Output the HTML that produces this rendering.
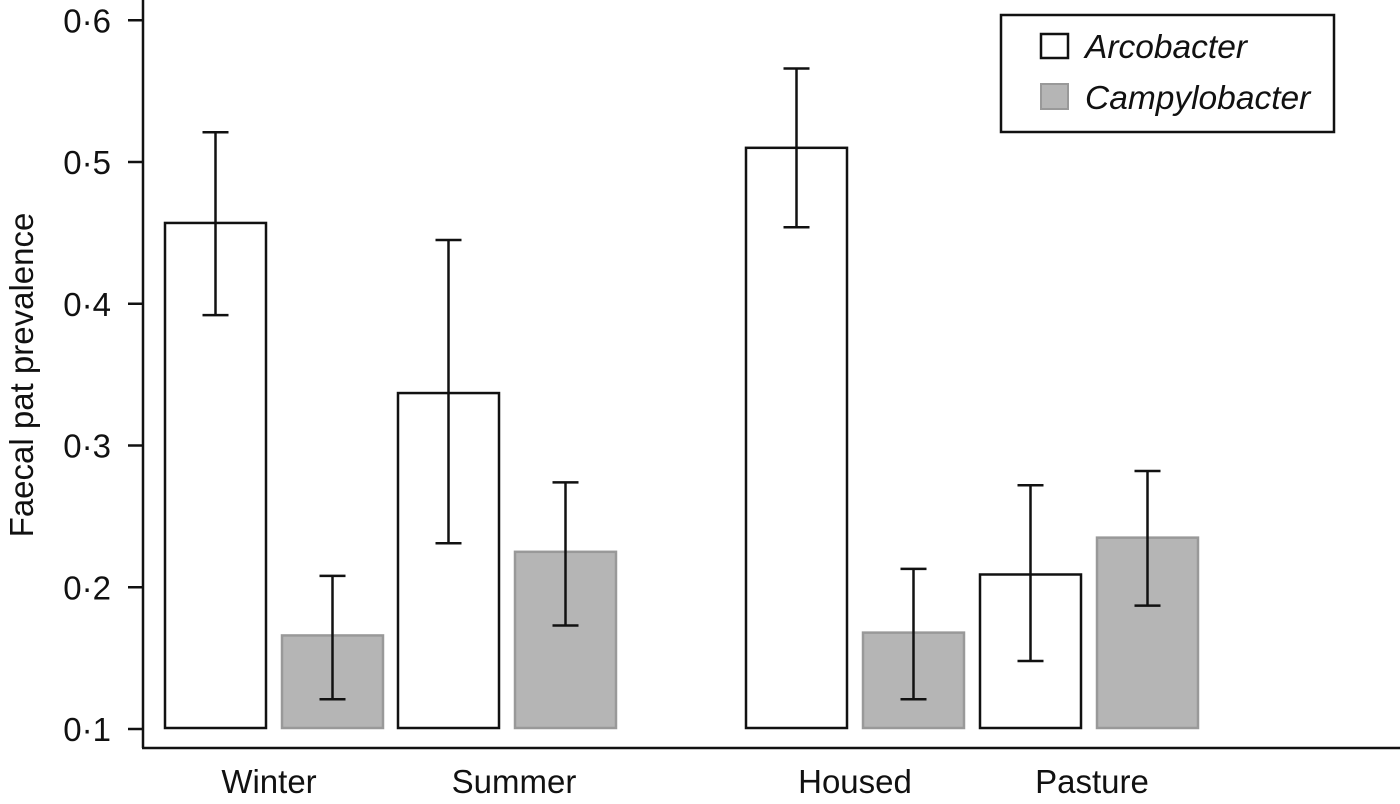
<!DOCTYPE html>
<html><head><meta charset="utf-8"><style>
body{margin:0;background:#fff}
svg{display:block;font-family:"Liberation Sans",Arial,sans-serif}
</style></head><body>
<svg id="chart" width="1400" height="804">
<g id="plot"></g>
</svg>
<script>
const categories=["Winter","Summer","Housed","Pasture"];
const arcobacter=[0.457,0.337,0.510,0.209];
const arcoLow=[0.392,0.231,0.454,0.148];
const arcoHigh=[0.521,0.445,0.566,0.272];
const campylobacter=[0.166,0.225,0.168,0.235];
const campyLow=[0.121,0.173,0.121,0.187];
const campyHigh=[0.208,0.274,0.213,0.282];
const yTicks=[0.1,0.2,0.3,0.4,0.5,0.6];
const yTickLabels=["0·1","0·2","0·3","0·4","0·5","0·6"];

const NS="http://www.w3.org/2000/svg";
const g=document.getElementById('plot');
function y(v){return 729-(v-0.1)*1417.5;}
const groupStart=[165,398,746,980];
const labelOffset=[104,116,109,112];
function xArco(i){return groupStart[i];}
function xCampy(i){return groupStart[i]+117;}
const bw=101;
function mk(tag,attrs){const e=document.createElementNS(NS,tag);for(const k in attrs)e.setAttribute(k,attrs[k]);g.appendChild(e);return e;}

let e=mk('line',{x1:143,y1:0,x2:143,y2:748,stroke:'#111','stroke-width':2.5});


e=mk('line',{x1:142,y1:748,x2:1400,y2:748,stroke:'#111','stroke-width':2.5});


yTicks.forEach((v,i)=>{
  let t=mk('line',{x1:128,x2:143,y1:y(v),y2:y(v),stroke:'#111','stroke-width':2.5});
  
  
  let l=mk('text',{x:111,y:y(v)+12,'text-anchor':'end','font-size':33,fill:'#111'});
  l.textContent=yTickLabels[i];
  
  
});
e=mk('text',{x:0,y:0,transform:'translate(33,375) rotate(-90)','text-anchor':'middle','font-size':33,fill:'#111'});
e.textContent='Faecal pat prevalence';



function bar(x,v,lo,hi,fill,stroke,name){
  let r=mk('rect',{x:x,y:y(v),width:bw,height:y(0.1)-y(v)-1,fill:fill,stroke:stroke,'stroke-width':2.5});
  
  
  const cx=x+bw/2;
  let l=mk('path',{d:`M${cx},${y(hi)}V${y(lo)}M${cx-13},${y(hi)}H${cx+13}M${cx-13},${y(lo)}H${cx+13}`,stroke:'#111','stroke-width':2.5,fill:'none'});
  
  
}
categories.forEach((c,i)=>{
  bar(xArco(i),arcobacter[i],arcoLow[i],arcoHigh[i],'#fff','#111','bar-arcobacter-'+c.toLowerCase());
  bar(xCampy(i),campylobacter[i],campyLow[i],campyHigh[i],'#b5b5b5','#999','bar-campylobacter-'+c.toLowerCase());
  let t=mk('text',{x:groupStart[i]+labelOffset[i],y:793,'text-anchor':'middle','font-size':33,fill:'#111'});
  t.textContent=c;
  
  
});

e=mk('rect',{x:1001,y:15,width:333,height:117,fill:'#fff',stroke:'#111','stroke-width':2.5});


e=mk('rect',{x:1041,y:34,width:27,height:24,fill:'#fff',stroke:'#111','stroke-width':2.5});


e=mk('text',{x:1085,y:58,'font-size':33.5,'font-style':'italic',fill:'#111'});
e.textContent='Arcobacter';


e=mk('rect',{x:1041,y:84,width:27,height:25,fill:'#b5b5b5',stroke:'#999','stroke-width':2});


e=mk('text',{x:1085,y:109,'font-size':33.5,'font-style':'italic',fill:'#111'});
e.textContent='Campylobacter';


</script>
</body></html>
